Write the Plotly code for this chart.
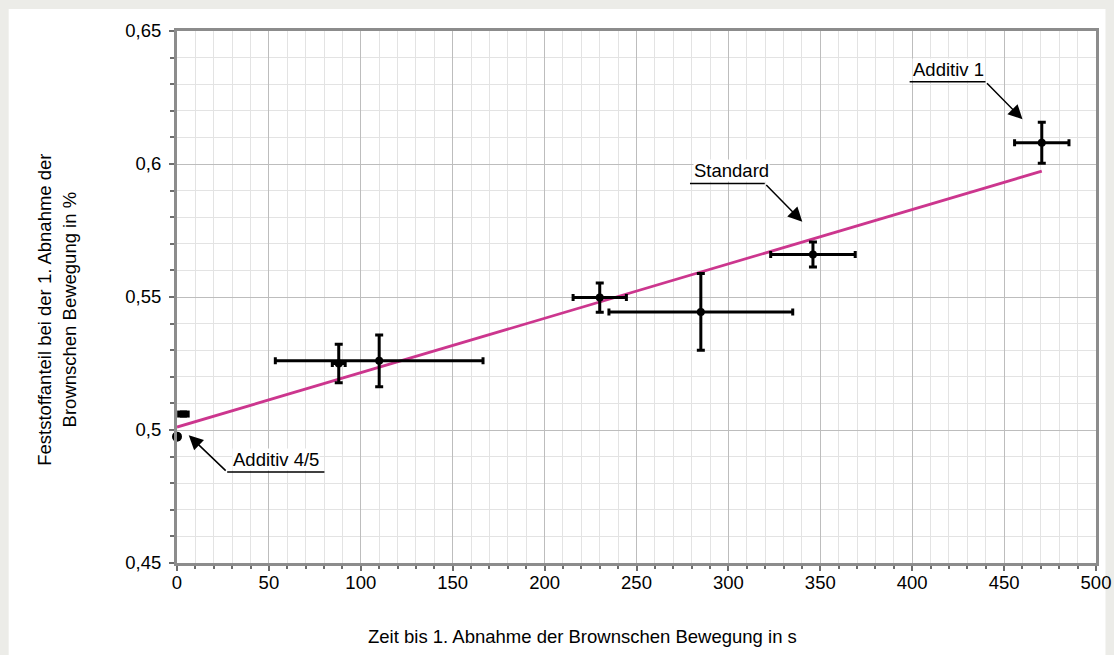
import plotly.graph_objects as go

# Measured series (time until first decrease of Brownian motion vs. solids content)
zeit = [88, 110, 230, 285, 346, 470.5]
anteil = [0.525, 0.526, 0.5498, 0.5444, 0.566, 0.608]
zeit_err = [3.5, 56.5, 14.5, 50, 23, 14.8]
anteil_err = [0.0072, 0.0097, 0.0055, 0.0144, 0.0047, 0.0077]

# Additive 4/5 points close to zero
add45_dot_x = [0]
add45_dot_y = [0.4975]
add45_bar_x = [3.5]
add45_bar_y = [0.506]
add45_bar_err = [3.4]

# Linear trend ("Standard")
trend_x = [0, 470.5]
trend_y = [0.5011, 0.5973]

x_ticks = [0, 50, 100, 150, 200, 250, 300, 350, 400, 450, 500]
y_ticks = [0.45, 0.5, 0.55, 0.6, 0.65]

FONT = "Liberation Sans, Arial, sans-serif"
FS = 18.5

# plot-area geometry (pixels) used to place the page frame
W, H = 1114, 655
L, R, T, B = 176.5, 17.5, 31, 92.3
PW, PH = W - L - R, H - T - B


def px_x(px):
    return (px - L) / PW


def px_y(py):
    return (H - B - py) / PH


fig = go.Figure()

fig.add_trace(go.Scatter(
    x=trend_x, y=trend_y, mode="lines",
    line=dict(color="#cc368e", width=2.8),
    hoverinfo="skip", showlegend=False,
))

fig.add_trace(go.Scatter(
    x=zeit, y=anteil, mode="markers",
    marker=dict(color="black", size=8),
    error_x=dict(type="data", array=zeit_err, color="black", thickness=3, width=3.5),
    error_y=dict(type="data", array=anteil_err, color="black", thickness=3, width=4),
    showlegend=False,
))

fig.add_trace(go.Scatter(
    x=add45_bar_x, y=add45_bar_y, mode="markers",
    marker=dict(color="black", size=7, symbol="square"),
    error_x=dict(type="data", array=add45_bar_err, color="black", thickness=7, width=0),
    cliponaxis=False, showlegend=False,
))

fig.add_trace(go.Scatter(
    x=add45_dot_x, y=add45_dot_y, mode="markers",
    marker=dict(color="black", size=10),
    cliponaxis=False, showlegend=False,
))

shapes = [
    # white panel on the grey page
    dict(type="rect", xref="paper", yref="paper",
         x0=px_x(8), x1=px_x(1106), y0=px_y(700), y1=px_y(9),
         fillcolor="white", line=dict(width=0), layer="below"),
]

# callout labels: (text, underline x0, underline x1, underline y, arrow tail x, arrow head x, arrow head y)
callouts = [
    ("Additiv 1", 398.6, 439.9, 0.6309, 439.9, 460.0, 0.6168),
    ("Standard", 279.1, 319.8, 0.5927, 319.8, 340.2, 0.5783),
    ("Additiv 4/5", 27.3, 80.2, 0.4842, 27.3, 6.4, 0.498),
]

annotations = []
for text, u0, u1, uy, tx, hx, hy in callouts:
    shapes.append(dict(type="line", xref="x", yref="y", x0=u0, x1=u1, y0=uy, y1=uy,
                       line=dict(color="black", width=1.5)))
    annotations.append(dict(
        x=u0 + 1.5 if text != "Additiv 4/5" else u0 + 2.7, y=uy,
        xref="x", yref="y", text=text, showarrow=False,
        xanchor="left", yanchor="bottom", yshift=1,
        bgcolor="white", borderpad=0,
        font=dict(family=FONT, size=FS, color="black"),
    ))
    annotations.append(dict(
        x=hx, y=hy, ax=tx, ay=uy, xref="x", yref="y", axref="x", ayref="y",
        text="", showarrow=True, arrowhead=2, arrowsize=1.9, arrowwidth=1.5,
        arrowcolor="black", standoff=0,
    ))

# axis titles
annotations.append(dict(
    x=px_x(582), y=px_y(636), xref="paper", yref="paper",
    xanchor="center", yanchor="middle",
    text="Zeit bis 1. Abnahme der Brownschen Bewegung in s", showarrow=False,
    font=dict(family=FONT, size=FS, color="black"),
))
annotations.append(dict(
    x=px_x(56), y=px_y(310), xref="paper", yref="paper", textangle=-90,
    xanchor="center", yanchor="middle",
    text="Feststoffanteil bei der 1. Abnahme der<br>Brownschen Bewegung in %",
    showarrow=False, align="center",
    font=dict(family=FONT, size=FS, color="black"),
))

axis_common = dict(
    showline=True, mirror=True, linecolor="#8c8c8c", linewidth=3,
    showgrid=True, gridcolor="#bdbdbd", gridwidth=1.3,
    ticks="outside", tickcolor="#6e6e6e", ticklen=5, tickwidth=2,
    tickfont=dict(family=FONT, size=FS, color="black"),
    zeroline=False, automargin=False,
)

fig.update_layout(
    width=W, height=H,
    margin=dict(l=L, r=R, t=T, b=B, autoexpand=False),
    paper_bgcolor="#ecece8",
    plot_bgcolor="white",
    separators=",.",
    xaxis=dict(
        range=[0, 500], tickvals=x_ticks, ticklabelstandoff=-4,
        minor=dict(dtick=10, showgrid=True, gridcolor="#e3e3e3", gridwidth=1,
                   ticks="outside", ticklen=3, tickcolor="#6e6e6e", tickwidth=2),
        **axis_common,
    ),
    yaxis=dict(
        range=[0.45, 0.65], tickvals=y_ticks, ticklabelstandoff=4,
        minor=dict(dtick=0.01, showgrid=True, gridcolor="#e3e3e3", gridwidth=1,
                   ticks="outside", ticklen=4, tickcolor="#6e6e6e", tickwidth=2),
        **axis_common,
    ),
    shapes=shapes,
    annotations=annotations,
    showlegend=False,
)

fig.write_html("out.html")
